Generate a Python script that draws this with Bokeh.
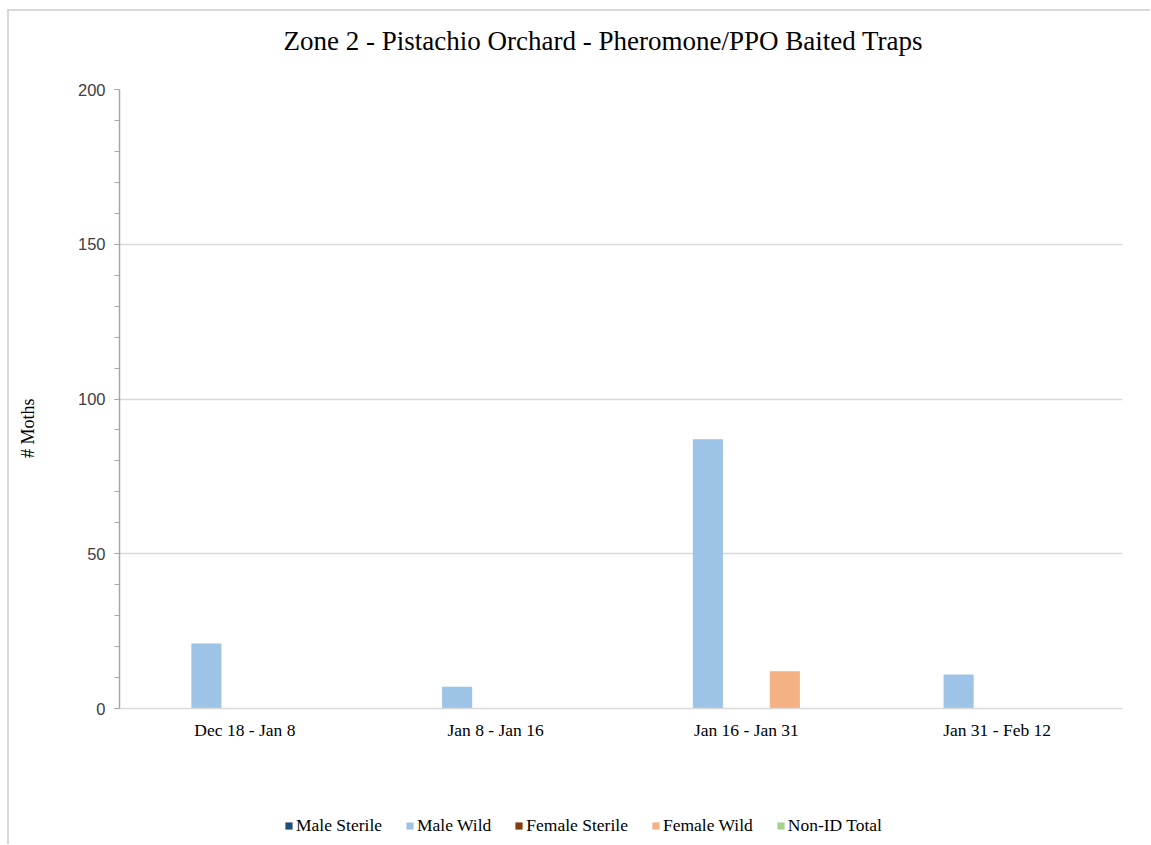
from bokeh.plotting import figure
from bokeh.layouts import column
from bokeh.models import (FactorRange, Range1d, Legend, LegendItem, SingleIntervalTicker,
                          ColumnDataSource, Label)
from bokeh.transform import dodge
from bokeh.embed import file_html
from bokeh.resources import INLINE

title_text = "Zone 2 - Pistachio Orchard - Pheromone/PPO Baited Traps"
categories = ["Dec 18 - Jan 8", "Jan 8 - Jan 16", "Jan 16 - Jan 31", "Jan 31 - Feb 12"]
series_names = ["Male Sterile", "Male Wild", "Female Sterile", "Female Wild", "Non-ID Total"]
male_sterile = [0, 0, 0, 0]
male_wild = [21, 7, 87, 11]
female_sterile = [0, 0, 0, 0]
female_wild = [0, 0, 12, 0]
non_id_total = [0, 0, 0, 0]
colors = ["#1f4e79", "#9dc3e6", "#843c0c", "#f4b183", "#a9d18e"]

source = ColumnDataSource(dict(
    cat=categories,
    s0=male_sterile, s1=male_wild, s2=female_sterile, s3=female_wild, s4=non_id_total,
))

SERIF = "Liberation Serif"
SANS = "Liberation Sans"
W = 1141


def strip(height):
    f = figure(width=W, height=height, x_range=Range1d(0, 1), y_range=Range1d(0, 1),
               x_axis_type=None, y_axis_type=None, output_backend="svg",
               toolbar_location=None, min_border=0)
    f.outline_line_color = None
    f.grid.visible = False
    return f


# title strip (its frame is aligned with the chart's frame)
title_fig = strip(56)
title_fig.add_layout(Label(x=164, y=27, x_units="screen", y_units="screen", text=title_text,
                           text_font=SERIF, text_font_size="27px", text_color="#000000",
                           text_align="left", text_baseline="middle"))

p = figure(
    width=W, height=701,
    x_range=FactorRange(*categories, range_padding=0),
    y_range=Range1d(0, 200),
    output_backend="svg", toolbar_location=None,
    min_border_left=110, min_border_right=28, min_border_top=22, min_border_bottom=60,
)
p.title.text = ""
p.title.standoff = 0
p.title.text_font_size = "1px"

p.outline_line_color = None
p.xgrid.grid_line_color = None
p.ygrid.grid_line_color = "#d9d9d9"
p.ygrid.grid_line_width = 1.5
p.ygrid.ticker = SingleIntervalTicker(interval=50)

p.yaxis.ticker = SingleIntervalTicker(interval=50, num_minor_ticks=5)
p.yaxis.axis_line_color = "#a6a6a6"
p.yaxis.axis_line_width = 1.5
p.yaxis.major_tick_line_color = "#a6a6a6"
p.yaxis.minor_tick_line_color = "#a6a6a6"
p.yaxis.major_tick_out = 5
p.yaxis.major_tick_in = 0
p.yaxis.minor_tick_out = 5
p.yaxis.minor_tick_in = 0
p.yaxis.major_label_text_font = SANS
p.yaxis.major_label_text_font_size = "16.5px"
p.yaxis.major_label_text_color = "#404040"
p.yaxis.major_label_standoff = 9
p.yaxis.axis_label = "# Moths" + "\u00a0" * 13
p.yaxis.axis_label_text_font = SERIF
p.yaxis.axis_label_text_font_size = "18px"
p.yaxis.axis_label_text_font_style = "normal"
p.yaxis.axis_label_text_color = "#000000"
p.yaxis.axis_label_standoff = 37

p.xaxis.axis_line_color = "#d9d9d9"
p.xaxis.axis_line_width = 1.5
p.xaxis.major_tick_line_color = None
p.xaxis.minor_tick_line_color = None
p.xaxis.major_label_text_font = SERIF
p.xaxis.major_label_text_font_size = "17.5px"
p.xaxis.major_label_text_color = "#000000"
p.xaxis.major_label_standoff = 5

offsets = [-0.307, -0.1535, 0.0, 0.1535, 0.307]
for i, col in enumerate(colors):
    p.vbar(x=dodge("cat", offsets[i], range=p.x_range), top="s%d" % i, width=0.12,
           source=source, fill_color=col, line_color=None)

# legend strip below the chart
leg_fig = strip(76)
leg_renderers = []
for col in colors:
    r = leg_fig.vbar(x=[-5.0], top=[0.0], width=0.1, fill_color=col, line_color=None)
    leg_renderers.append(r)

legend = Legend(
    items=[LegendItem(label=n, renderers=[r]) for n, r in zip(series_names, leg_renderers)],
    orientation="horizontal",
    location=(165, 8),
    label_text_font=SERIF,
    label_text_font_size="17.5px",
    label_text_color="#000000",
    glyph_width=9, glyph_height=9,
    label_standoff=3,
    spacing=23,
    padding=0, margin=0,
    border_line_color=None,
    background_fill_alpha=0,
    label_height=17,
)
leg_fig.add_layout(legend, "center")

layout = column(title_fig, p, leg_fig, spacing=0)
layout.styles = {"margin-left": "7px", "margin-top": "9px",
                 "border-left": "2px solid #d9d9d9", "border-top": "2px solid #d9d9d9"}

open("out.html", "w").write(file_html(layout, INLINE))
